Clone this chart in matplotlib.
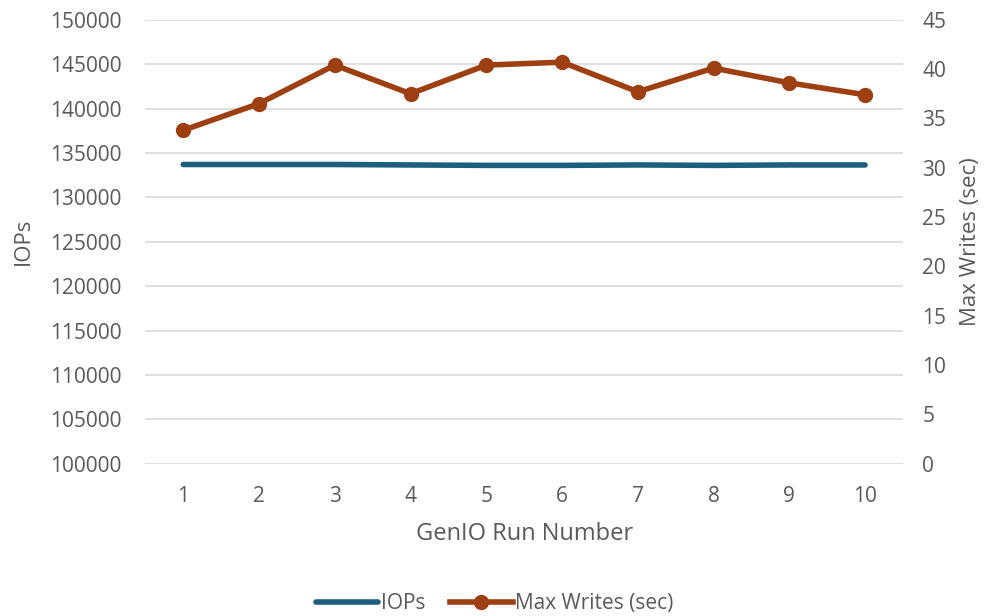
import matplotlib.pyplot as plt
import numpy as np

plt.rcParams['font.family'] = ['Open Sans', 'DejaVu Sans']

runs = [1, 2, 3, 4, 5, 6, 7, 8, 9, 10]
iops = [133700, 133700, 133700, 133650, 133600, 133600, 133650, 133600, 133650, 133650]
max_writes = [33.8, 36.5, 40.4, 37.5, 40.4, 40.7, 37.7, 40.1, 38.6, 37.4]

blue = '#1B5E7E'
rust = '#9E3F12'
txt = '#595959'
grid = '#D9D9D9'

fig = plt.figure(figsize=(9.89, 6.16), dpi=100)
ax = fig.add_axes([0.147, 0.247, 0.766, 0.721])
ax2 = ax.twinx()

x = np.arange(len(runs))
ax.plot(x, iops, color=blue, lw=4, solid_capstyle='round', label='IOPs', zorder=3)
ax2.plot(x, max_writes, color=rust, lw=4, marker='o', ms=10,
         label='Max Writes (sec)', zorder=3)

ax.set_xlim(-0.5, len(runs) - 0.5)
ax.set_ylim(100000, 150000)
ax.set_yticks(np.arange(100000, 150001, 5000))
ax2.set_ylim(0, 45)
ax2.set_yticks(np.arange(0, 46, 5))
ax.set_xticks(x)
ax.set_xticklabels([str(r) for r in runs])

ax.grid(axis='y', color=grid, lw=1.2)
ax.set_axisbelow(True)
for a in (ax, ax2):
    for s in a.spines.values():
        s.set_visible(False)
    a.tick_params(length=0, labelsize=15, labelcolor=txt)
ax.tick_params(axis='y', pad=17)
ax2.tick_params(axis='y', pad=14)
ax.tick_params(axis='x', pad=16)

ax.set_xlabel('GenIO Run Number', fontsize=17, color=txt, labelpad=11)
ax.set_ylabel('IOPs', fontsize=16, color=txt, labelpad=12)
ax2.set_ylabel('Max Writes (sec)', fontsize=16, color=txt, labelpad=10)

h1, l1 = ax.get_legend_handles_labels()
h2, l2 = ax2.get_legend_handles_labels()
fig.legend(h1 + h2, l1 + l2, loc='center', bbox_to_anchor=(0.5, 0.02),
           ncol=2, frameon=False, fontsize=15, labelcolor=txt,
           handlelength=3, handletextpad=0.1, columnspacing=1.2)

fig.savefig('out.png', dpi=100)
